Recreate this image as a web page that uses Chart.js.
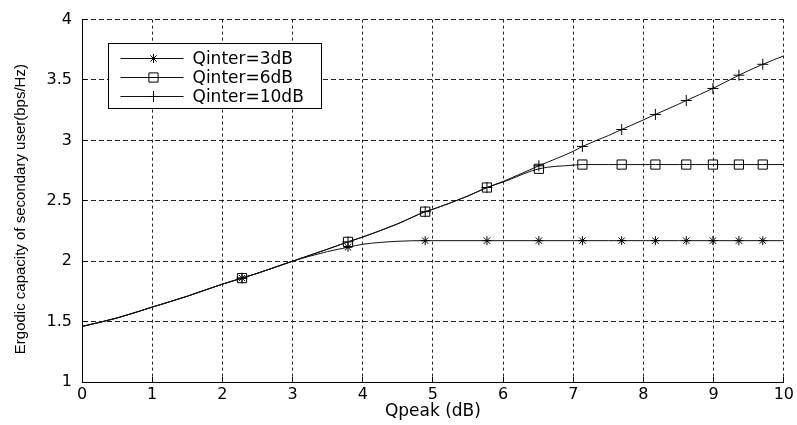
<!DOCTYPE html>
<html>
<head>
<meta charset="utf-8">
<script src="https://cdn.jsdelivr.net/npm/chart.js@4.4.0/dist/chart.umd.min.js"></script>
<style>
html, body { margin: 0; padding: 0; background: #fff; }
</style>
</head>
<body>
<canvas id="capChart" width="797" height="425"></canvas>
<script>
// Qpeak (dB) sample points
var qpeak = [0, 0.5, 1, 1.5, 2, 2.28, 2.5, 3, 3.5, 3.79, 4, 4.5, 4.89, 5, 5.5, 5.77, 6, 6.51, 7, 7.13, 7.5, 7.69, 8, 8.17, 8.5, 8.61, 8.99, 9.36, 9.7, 10];
// x positions where markers are drawn
var markerQpeak = [2.28, 3.79, 4.89, 5.77, 6.51, 7.13, 7.69, 8.17, 8.61, 8.99, 9.36, 9.7];

var cap3dB = [1.46, 1.53, 1.62, 1.71, 1.81, 1.86, 1.90, 2.00, 2.08, 2.115, 2.14, 2.165, 2.17, 2.17, 2.17, 2.17, 2.17, 2.17, 2.17, 2.17, 2.17, 2.17, 2.17, 2.17, 2.17, 2.17, 2.17, 2.17, 2.17, 2.17];
var cap6dB = [1.46, 1.53, 1.62, 1.71, 1.81, 1.86, 1.90, 2.00, 2.10, 2.16, 2.20, 2.31, 2.41, 2.43, 2.54, 2.61, 2.655, 2.765, 2.795, 2.80, 2.80, 2.80, 2.80, 2.80, 2.80, 2.80, 2.80, 2.80, 2.80, 2.80];
var cap10dB = [1.46, 1.53, 1.62, 1.71, 1.81, 1.86, 1.90, 2.00, 2.10, 2.16, 2.20, 2.31, 2.41, 2.43, 2.54, 2.61, 2.66, 2.79, 2.91, 2.95, 3.04, 3.09, 3.17, 3.215, 3.30, 3.33, 3.43, 3.54, 3.63, 3.70];

var seriesNames = ["Qinter=3dB", "Qinter=6dB", "Qinter=10dB"];
var xTicks = [0, 1, 2, 3, 4, 5, 6, 7, 8, 9, 10];
var yTicks = [1, 1.5, 2, 2.5, 3, 3.5, 4];

function toPoints(vals) {
    return qpeak.map(function (q, i) { return { x: q, y: vals[i] }; });
}

function markerRadius(r) {
    return function (ctx) {
        return markerQpeak.indexOf(qpeak[ctx.dataIndex]) >= 0 ? r : 0;
    };
}

function makeSet(label, vals, style, r) {
    return {
        label: label,
        data: toPoints(vals),
        borderColor: '#111',
        borderWidth: 1,
        cubicInterpolationMode: 'monotone',
        pointStyle: style,
        pointRadius: markerRadius(r),
        pointHoverRadius: markerRadius(r),
        pointBorderColor: '#000',
        pointBorderWidth: 1,
        pointBackgroundColor: 'rgba(0,0,0,0)',
        fill: false
    };
}

// small ticks pointing into the plot, like the original
var inwardTicks = {
    id: 'inwardTicks',
    afterDraw: function (chart) {
        var ctx = chart.ctx, a = chart.chartArea;
        var xs = chart.scales.x, ys = chart.scales.y;
        ctx.save();
        ctx.strokeStyle = '#000';
        ctx.lineWidth = 1;
        ctx.beginPath();
        xTicks.forEach(function (v) {
            var px = Math.round(xs.getPixelForValue(v) - 0.5) + 0.5;
            ctx.moveTo(px, a.bottom);
            ctx.lineTo(px, a.bottom - 5);
        });
        yTicks.forEach(function (v) {
            var py = Math.round(ys.getPixelForValue(v) - 0.5) + 0.5;
            ctx.moveTo(a.left, py);
            ctx.lineTo(a.left + 5, py);
        });
        ctx.stroke();
        ctx.restore();
    }
};

// boxed legend with line + marker samples
var boxLegend = {
    id: 'boxLegend',
    afterDraw: function (chart) {
        var ctx = chart.ctx, a = chart.chartArea;
        var left = Math.round(a.left + 26) + 0.5, top = Math.round(a.top + 23) + 0.5;
        var w = 213, h = 65;
        ctx.save();
        ctx.fillStyle = '#fff';
        ctx.fillRect(left, top, w, h);
        ctx.strokeStyle = '#000';
        ctx.lineWidth = 1;
        ctx.strokeRect(left, top, w, h);
        ctx.font = '17px "DejaVu Sans"';
        ctx.textBaseline = 'middle';
        chart.data.datasets.forEach(function (ds, i) {
            var y = Math.round(top + 14 + i * 19.3) + 0.5;
            ctx.strokeStyle = '#111';
            ctx.beginPath();
            ctx.moveTo(left + 12, y);
            ctx.lineTo(left + 75, y);
            ctx.stroke();
            ctx.strokeStyle = '#000';
            ctx.fillStyle = 'rgba(0,0,0,0)';
            var r = ds.pointStyle === 'rect' ? 6.5 : (ds.pointStyle === 'cross' ? 5.5 : 4.5);
            Chart.helpers.drawPoint(ctx, { pointStyle: ds.pointStyle, radius: r, rotation: 0, borderWidth: 1 }, left + 45, y);
            ctx.fillStyle = '#000';
            ctx.fillText(ds.label, left + 84, y + 1);
        });
        ctx.restore();
    }
};

var ctxC = document.getElementById("capChart").getContext('2d');
var capChart = new Chart(ctxC, {
    type: 'line',
    data: {
        datasets: [
            makeSet(seriesNames[0], cap3dB, 'star', 4.5),
            makeSet(seriesNames[1], cap6dB, 'rect', 6.5),
            makeSet(seriesNames[2], cap10dB, 'cross', 5.5)
        ]
    },
    options: {
        responsive: false,
        animation: false,
        layout: { padding: { top: 15, right: 11, left: 0, bottom: 0 } },
        plugins: {
            legend: { display: false },
            tooltip: { enabled: false }
        },
        scales: {
            x: {
                type: 'linear',
                min: 0,
                max: 10,
                afterBuildTicks: function (s) { s.ticks = xTicks.map(function (v) { return { value: v }; }); },
                afterFit: function (s) { s.height = 43; },
                ticks: {
                    color: '#000',
                    padding: 3,
                    maxRotation: 0,
                    font: { family: 'DejaVu Sans', size: 16 },
                    callback: function (v) { return String(v); }
                },
                grid: { color: '#222', lineWidth: 1, drawTicks: false },
                border: { display: true, color: '#000', width: 1, dash: [3, 3] },
                title: {
                    display: true,
                    text: 'Qpeak (dB)',
                    color: '#000',
                    font: { family: 'DejaVu Sans', size: 17 },
                    padding: { top: 0, bottom: 3 }
                }
            },
            y: {
                type: 'linear',
                min: 1,
                max: 4,
                afterBuildTicks: function (s) { s.ticks = yTicks.map(function (v) { return { value: v }; }); },
                afterFit: function (s) { s.width = 82; },
                ticks: {
                    color: '#000',
                    padding: 10,
                    font: { family: 'DejaVu Sans', size: 16 },
                    callback: function (v) { return String(v); }
                },
                grid: { color: '#222', lineWidth: 1, drawTicks: false },
                border: { display: true, color: '#000', width: 1, dash: [5, 3] },
                title: {
                    display: true,
                    text: 'Ergodic capacity of secondary user(bps/Hz)    ',
                    color: '#000',
                    font: { family: 'Liberation Sans', size: 15 },
                    padding: { top: 12, bottom: 0 }
                }
            }
        }
    },
    plugins: [inwardTicks, boxLegend]
});
</script>
</body>
</html>
